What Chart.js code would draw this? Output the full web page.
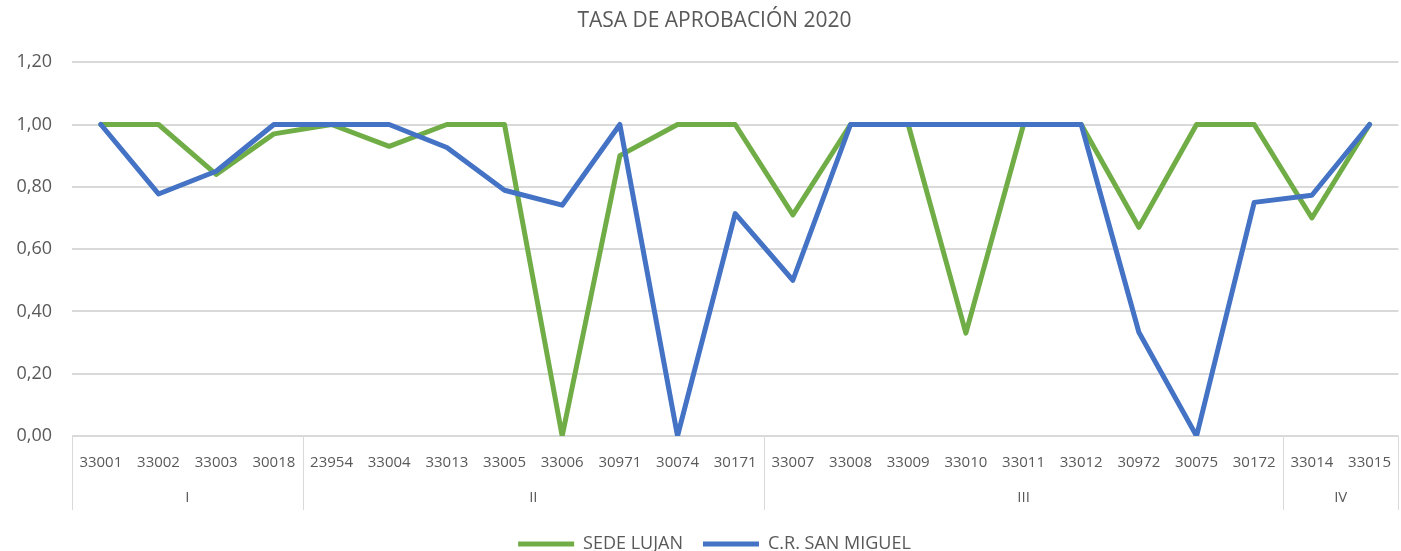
<!DOCTYPE html>
<html>
<head>
<meta charset="utf-8">
<script src="https://cdn.jsdelivr.net/npm/chart.js@4/dist/chart.umd.min.js"></script>
<style>
  html, body { margin: 0; padding: 0; background: #fff; }
  #wrap { width: 1401px; height: 551px; }
</style>
</head>
<body>
<div id="wrap"><canvas id="chart"></canvas></div>
<script>
// Data
const codes = ["33001","33002","33003","30018","23954","33004","33013","33005","33006","30971","30074","30171",
  "33007","33008","33009","33010","33011","33012","30972","30075","30172","33014","33015"];
const groups = ["I", "II", "III", "IV"];
const groupSizes = [4, 8, 9, 2];
const sedeLujan = [1.00, 1.00, 0.84, 0.97, 1.00, 0.93, 1.00, 1.00, 0.00, 0.90, 1.00, 1.00,
  0.71, 1.00, 1.00, 0.33, 1.00, 1.00, 0.67, 1.00, 1.00, 0.70, 1.00];
const sanMiguel = [1.00, 0.777, 0.85, 1.00, 1.00, 1.00, 0.926, 0.789, 0.741, 1.00, 0.00, 0.714,
  0.50, 1.00, 1.00, 1.00, 1.00, 1.00, 0.333, 0.00, 0.75, 0.773, 1.00];

const textColor = "#595959";
const gridColor = "#d9d9d9";
const font = "'Open Sans', sans-serif";
const groupAxisHeight = 74;

// Group labels under category labels
const groupAxis = {
  id: "groupAxis",
  afterLayout(c) {
    // nudge title and legend like the original (slightly right, legend lower)
    c.titleBlock.left += 28;
    c.legend.left += 28;
    c.legend.top += 12;
    c.legend.bottom += 12;
  },
  afterDraw(c) {
    const x = c.scales.x, ctx = c.ctx;
    const top = c.chartArea.bottom;
    const step = x.getPixelForValue(1) - x.getPixelForValue(0);
    ctx.save();
    ctx.strokeStyle = gridColor;
    ctx.lineWidth = 1;
    ctx.fillStyle = textColor;
    ctx.font = "15px " + font;
    ctx.textAlign = "center";
    ctx.textBaseline = "middle";
    let start = 0;
    groups.forEach((g, i) => {
      const end = start + groupSizes[i] - 1;
      const left = x.getPixelForValue(start) - step / 2;
      const right = x.getPixelForValue(end) + step / 2;
      [left, Math.min(right, c.width - 1)].forEach(px => {
        ctx.beginPath();
        ctx.moveTo(Math.round(px) + 0.5, top);
        ctx.lineTo(Math.round(px) + 0.5, top + groupAxisHeight);
        ctx.stroke();
      });
      ctx.fillText(g, (left + right) / 2, top + 62);
      start = end + 1;
    });
    ctx.restore();
  }
};

new Chart(document.getElementById("chart"), {
  type: "line",
  data: {
    labels: codes,
    datasets: [
      {
        label: "SEDE LUJAN",
        data: sedeLujan,
        order: 1,
        borderColor: "#70ad47",
        backgroundColor: "#70ad47",
        borderWidth: 5,
        borderCapStyle: "round",
        borderJoinStyle: "round",
        pointRadius: 0,
        tension: 0
      },
      {
        label: "C.R. SAN MIGUEL",
        data: sanMiguel,
        order: 0,
        borderColor: "#4472c4",
        backgroundColor: "#4472c4",
        borderWidth: 5,
        borderCapStyle: "round",
        borderJoinStyle: "round",
        pointRadius: 0,
        tension: 0
      }
    ]
  },
  options: {
    responsive: true,
    maintainAspectRatio: false,
    animation: false,
    layout: { padding: 0 },
    plugins: {
      title: {
        display: true,
        text: "TASA DE APROBACIÓN 2020",
        color: textColor,
        font: { family: font, size: 21, weight: "normal" },
        padding: { top: 8, bottom: 29 }
      },
      legend: {
        position: "bottom",
        labels: {
          usePointStyle: true,
          pointStyle: "line",
          pointStyleWidth: 56,
          color: textColor,
          font: { family: font, size: 18 },
          padding: 20,
          sort: (a, b) => a.datasetIndex - b.datasetIndex
        }
      },
      tooltip: { enabled: false }
    },
    scales: {
      x: {
        offset: true,
        grid: { display: false },
        border: { display: false },
        ticks: {
          color: textColor,
          font: { family: font, size: 15 },
          autoSkip: false,
          maxRotation: 0,
          padding: 10
        },
        afterFit(s) { s.height = 67; }
      },
      y: {
        min: 0,
        max: 1.2,
        grid: { color: gridColor, lineWidth: 2, drawTicks: false },
        border: { display: false },
        ticks: {
          stepSize: 0.2,
          color: textColor,
          font: { family: font, size: 18 },
          padding: 20,
          callback: v => v.toFixed(2).replace(".", ",")
        },
        afterFit(s) { s.width = 72; }
      }
    }
  },
  plugins: [groupAxis]
});
</script>
</body>
</html>
